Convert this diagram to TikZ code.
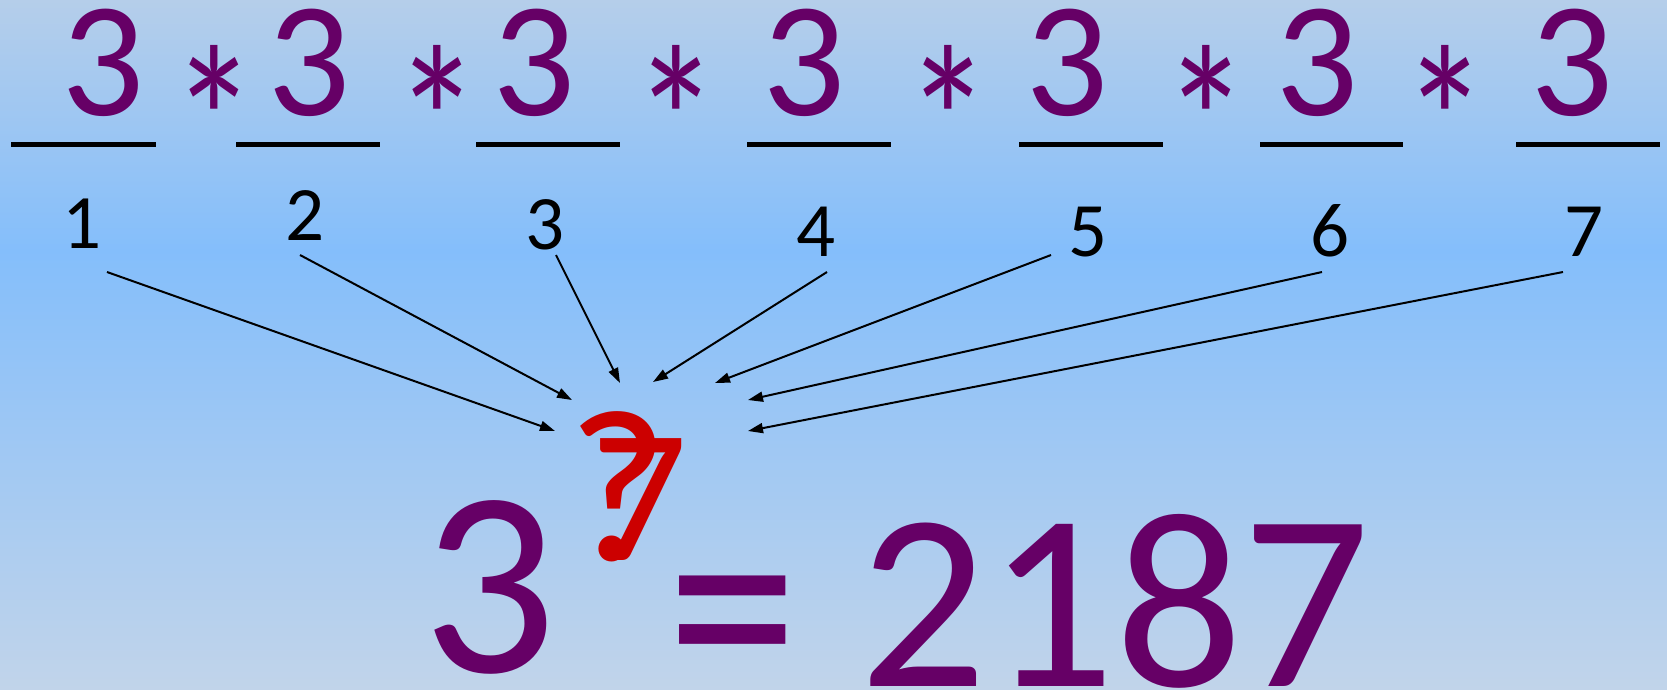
\documentclass[tikz,border=0pt]{standalone}
\usepackage{fontspec}
\setmainfont{Carlito}
\usetikzlibrary{arrows.meta}
\definecolor{bgtop}{RGB}{181,206,234}
\definecolor{bgmid}{RGB}{132,190,251}
\definecolor{bgbot}{RGB}{193,212,234}
\definecolor{plum}{RGB}{102,0,102}
\definecolor{redq}{RGB}{204,0,0}
\newcommand{\fsz}[1]{\fontsize{#1}{#1}\selectfont}
\newcommand{\narrowstar}{\scalebox{0.82}[1]{*}}
\tikzset{
  bigthree/.style={anchor=base,inner sep=0pt,text=plum,font=\fsz{164}},
  star/.style={anchor=base,inner sep=0pt,text=plum,font=\fsz{210}},
  idx/.style={anchor=base,inner sep=0pt,text=black,font=\fsz{77}},
  blank/.style={line width=5pt,black},
  pointer/.style={line width=2pt,black,-{Triangle[length=15pt,width=10pt]}},
  eqpart/.style={anchor=base,inner sep=0pt,text=plum,font=\fsz{252}},
  redpart/.style={anchor=base,inner sep=0pt,text=redq},
}
\begin{document}
\begin{tikzpicture}[x=1pt,y=-1pt]
\useasboundingbox (0,0) rectangle (1667,689);
\shade[top color=bgtop,bottom color=bgmid] (0,0) rectangle (1667,251);
\shade[top color=bgmid,bottom color=bgbot] (0,250) rectangle (1667,689);
% top threes
\node[bigthree] (t1) at (103,115) {3};
\node[bigthree] (t2) at (309,115) {3};
\node[bigthree] (t3) at (534,115) {3};
\node[bigthree] (t4) at (804,115) {3};
\node[bigthree] (t5) at (1067,115) {3};
\node[bigthree] (t6) at (1317,115) {3};
\node[bigthree] (t7) at (1572,115) {3};
% asterisks
\node[star] (a1) at (214,194) {\narrowstar};
\node[star] (a2) at (437,194) {\narrowstar};
\node[star] (a3) at (676,194) {\narrowstar};
\node[star] (a4) at (948,194) {\narrowstar};
\node[star] (a5) at (1206,194) {\narrowstar};
\node[star] (a6) at (1445,194) {\narrowstar};
% blanks
\draw[blank] (11,144) -- (156,144);
\draw[blank] (236,144) -- (380,144);
\draw[blank] (476,144) -- (620,144);
\draw[blank] (747,144) -- (891,144);
\draw[blank] (1019,144) -- (1163,144);
\draw[blank] (1260,144) -- (1403,144);
\draw[blank] (1516,144) -- (1660,144);
% indices
\node[idx] (n1) at (82,248) {1};
\node[idx] (n2) at (305,240) {2};
\node[idx] (n3) at (545,249) {3};
\node[idx] (n4) at (816,256) {4};
\node[idx] (n5) at (1088,256) {5};
\node[idx] (n6) at (1330,256) {6};
\node[idx] (n7) at (1584,256) {7};
% arrow ends
\coordinate (s1) at (107,272); \coordinate (e1) at (555,431);
\coordinate (s2) at (300,255); \coordinate (e2) at (572,400);
\coordinate (s3) at (556,255); \coordinate (e3) at (620,383);
\coordinate (s4) at (827,272); \coordinate (e4) at (653,382);
\coordinate (s5) at (1051,255); \coordinate (e5) at (715,383);
\coordinate (s6) at (1322,272); \coordinate (e6) at (748,400);
\coordinate (s7) at (1563,272); \coordinate (e7) at (748,431);
\foreach \i in {1,...,7} \draw[pointer] (s\i) -- (e\i);
% result
\node[eqpart,font=\fsz{265}] (b3) at (490,672) {3};
\node[redpart,font=\fsz{190}] (r7) at (640,560) {7};
\node[redpart,font=\fsz{218}] (rq) at (618,560) {?};
\node[eqpart,font=\fsz{262}] (eq) at (733,707) {\scalebox{1}[1.17]{=}};
\node[eqpart] (res) at (1115,686) {2187};
\end{tikzpicture}
\end{document}
